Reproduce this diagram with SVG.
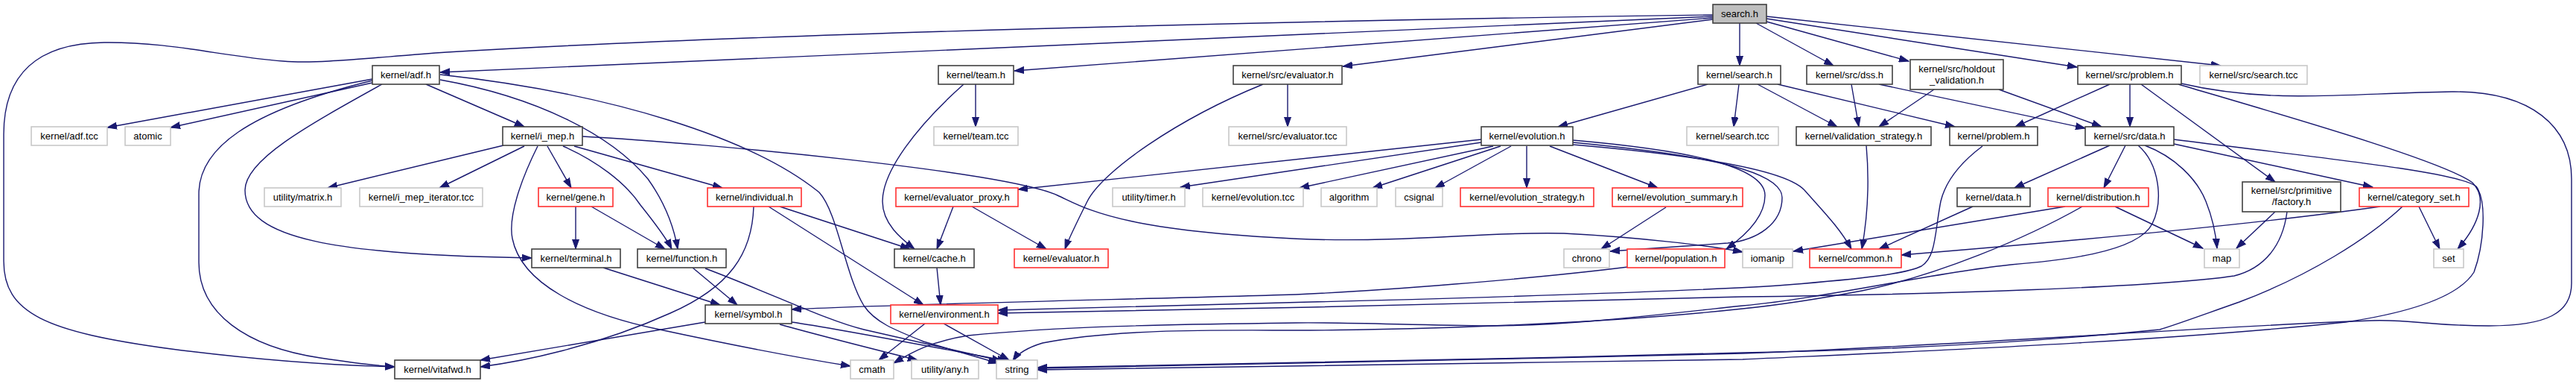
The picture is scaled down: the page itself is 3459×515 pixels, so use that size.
<svg xmlns="http://www.w3.org/2000/svg" width="3459" height="515" viewBox="0 0 3459 515">
<style>
.b rect{fill:#fff;stroke:#404040;stroke-width:1.6}
.g rect{fill:#fff;stroke:#c8c8c8;stroke-width:1.6}
.r rect{fill:#fff;stroke:#ff3030;stroke-width:1.6}
.c rect{fill:#bfbfbf;stroke:#404040;stroke-width:1.6}
text{font-family:"Liberation Sans",Arial,sans-serif;font-size:13px;fill:#000;text-anchor:middle}
#edges path{fill:none;stroke:#191970;stroke-width:1.4;marker-end:url(#ah)}
</style>
<defs>
<marker id="ah" markerUnits="userSpaceOnUse" markerWidth="14" markerHeight="10" refX="13" refY="5" orient="auto" viewBox="0 0 14 10"><path d="M0,0.5 L13,5 L0,9.5 z" fill="#191970" stroke="#191970" stroke-width="1"/></marker>
</defs>
<rect width="3459" height="515" fill="#fff"/>
<g id="edges">
<path d="M2300,20 C1700,28 1000,46 600,70 C500,77 430,86 380,82 C300,76 230,56 140,57 C50,58 5,100 5,180 L5,350 C5,420 60,445 230,468 C340,482 450,490 530,492"/>
<path d="M2300,22 L591,97"/>
<path d="M2300,24 L1362,95"/>
<path d="M2300,26 L1803,89"/>
<path d="M2336,31 L2336,88"/>
<path d="M2358,31 L2462,88"/>
<path d="M2372,29 L2563,82"/>
<path d="M2372,25 L2789,90"/>
<path d="M2372,22 L2982,88"/>
<path d="M500,106 L144,171"/>
<path d="M500,111 L229,171"/>
<path d="M500,108 C330,150 267,200 267,260 L267,352 C267,420 330,465 430,480 C470,486 500,490 530,492"/>
<path d="M513,113 C410,170 329,215 329,255 C329,320 450,342 714,346"/>
<path d="M572,113 L704,170"/>
<path d="M591,107 C720,130 820,180 870,240 C895,275 905,305 910,334"/>
<path d="M591,100 C820,125 1010,185 1100,258 C1125,285 1135,370 1160,410 C1175,432 1200,442 1240,458 L1340,487"/>
<path d="M676,195 L440,252"/>
<path d="M704,196 L590,252"/>
<path d="M722,196 C700,240 682,290 688,320 C700,380 780,420 886,442 C970,460 1060,478 1142,491"/>
<path d="M735,196 L767,252"/>
<path d="M756,196 C800,215 840,245 860,275 C880,300 895,320 902,334"/>
<path d="M771,196 L970,252"/>
<path d="M782,183 C950,192 1350,230 1420,262 C1460,280 1500,310 1760,321 C1900,325 2000,310 2100,313 C2200,318 2300,330 2340,338"/>
<path d="M773,277 L773,334"/>
<path d="M794,277 L893,334"/>
<path d="M1012,277 C1010,340 980,385 900,420 C800,465 700,485 645,492"/>
<path d="M1047,277 L1222,334"/>
<path d="M1032,277 L1240,409"/>
<path d="M810,359 L967,409"/>
<path d="M930,359 L990,409"/>
<path d="M947,360 C1040,395 1110,430 1160,442 L1345,484"/>
<path d="M947,432 L645,483"/>
<path d="M1063,432 C1120,440 1250,465 1352,484"/>
<path d="M1047,435 C1100,450 1180,470 1232,483"/>
<path d="M1242,434 L1180,483"/>
<path d="M1267,434 L1355,483"/>
<path d="M1258,359 L1263,409"/>
<path d="M1280,277 L1258,334"/>
<path d="M1305,277 L1405,334"/>
<path d="M1310,113 L1310,170"/>
<path d="M1294,113 C1230,170 1185,230 1185,270 C1185,300 1210,320 1228,334"/>
<path d="M1729,113 L1729,170"/>
<path d="M1696,113 C1580,160 1480,230 1460,270 C1445,300 1435,320 1430,334"/>
<path d="M1989,187 L1367,254"/>
<path d="M1989,191 L1585,251"/>
<path d="M2005,196 L1745,252"/>
<path d="M2015,196 L1843,252"/>
<path d="M2029,196 L1927,252"/>
<path d="M2050,196 L2050,252"/>
<path d="M2081,196 L2226,252"/>
<path d="M2112,188 C2250,200 2370,220 2370,262 C2370,290 2345,315 2318,334"/>
<path d="M2112,191 C2260,205 2393,225 2393,265 C2393,300 2360,322 2320,326 C2260,330 2200,334 2162,337"/>
<path d="M2112,194 C2300,210 2400,230 2423,255 C2445,280 2470,305 2486,334"/>
<path d="M2237,278 L2150,334"/>
<path d="M2293,113 L2092,170"/>
<path d="M2335,113 L2328,170"/>
<path d="M2360,113 L2467,170"/>
<path d="M2387,113 L2625,170"/>
<path d="M2486,113 L2496,170"/>
<path d="M2523,113 L2800,172"/>
<path d="M2597,120 L2523,170"/>
<path d="M2684,120 L2822,170"/>
<path d="M2833,113 L2706,170"/>
<path d="M2860,113 L2860,170"/>
<path d="M2875,113 L3055,244"/>
<path d="M2925,113 C3050,150 3280,215 3320,245 C3340,265 3330,300 3300,334"/>
<path d="M2929,112 C3050,140 3150,125 3292,123 C3400,122 3453,170 3453,240 L3453,380 C3453,420 3420,437 3342,437 C3260,437 3240,428 3183,430 C3000,436 2600,465 2340,474 C2000,482 1600,492 1393,494"/>
<path d="M2833,195 L2705,252"/>
<path d="M2854,195 L2825,252"/>
<path d="M2919,193 L3186,251"/>
<path d="M2880,195 C2920,210 2950,240 2962,270 C2970,290 2975,310 2977,333"/>
<path d="M2919,187 C3100,210 3300,230 3325,250 C3340,270 3335,330 3322,365 C3300,400 3230,420 3150,432 C2900,458 2600,470 2340,482 C2000,487 1600,493 1393,496"/>
<path d="M2871,195 C2900,220 2905,270 2890,300 C2870,340 2760,350 2700,355 C2600,365 2450,400 2340,410 C2200,425 2100,437 2000,437 C1900,436 1800,432 1740,433 C1600,435 1440,436 1300,450 C1250,458 1225,472 1200,487"/>
<path d="M2773,277 L2408,337"/>
<path d="M2840,277 L2958,333"/>
<path d="M2796,277 C2720,320 2600,370 2500,390 C2420,405 2380,410 2340,414 C2100,440 1800,443 1740,443 C1650,443 1500,440 1400,460 C1380,466 1366,475 1360,484"/>
<path d="M2649,277 L2523,334"/>
<path d="M2506,195 C2510,240 2508,290 2500,334"/>
<path d="M3196,277 C3000,305 2700,330 2553,342"/>
<path d="M3248,277 L3276,334"/>
<path d="M3226,277 C3180,320 3100,370 3007,405 C2950,425 2920,436 2900,442 C2700,462 2500,470 2340,473 C2000,482 1600,491 1393,493"/>
<path d="M3055,284 L3003,333"/>
<path d="M3071,284 C3065,330 3040,360 3000,370 C2900,385 2600,395 2340,398 C2100,402 1900,410 1760,412 C1600,416 1450,418 1340,420"/>
<path d="M2662,196 C2630,220 2612,245 2606,270 C2598,310 2600,345 2580,357 C2560,367 2500,374 2400,382 C2300,390 1900,402 1760,405 C1600,410 1450,414 1340,416"/>
<path d="M2186,358 C2050,375 1850,390 1740,395 C1500,402 1200,408 1063,415"/>
</g>
<g id="n_search_h" class="c"><rect x="2300" y="6" width="72" height="25"/><text x="2336" y="23">search.h</text></g>
<g id="n_adf_h" class="b"><rect x="500" y="88" width="90" height="25"/><text x="545" y="105">kernel/adf.h</text></g>
<g id="n_team_h" class="b"><rect x="1260" y="88" width="101" height="25"/><text x="1310.5" y="105">kernel/team.h</text></g>
<g id="n_src_evaluator_h" class="b"><rect x="1656" y="88" width="146" height="25"/><text x="1729" y="105">kernel/src/evaluator.h</text></g>
<g id="n_kernel_search_h" class="b"><rect x="2280" y="88" width="111" height="25"/><text x="2335.5" y="105">kernel/search.h</text></g>
<g id="n_src_dss_h" class="b"><rect x="2426" y="88" width="115" height="25"/><text x="2483.5" y="105">kernel/src/dss.h</text></g>
<g id="n_holdout" class="b"><rect x="2565" y="80" width="125" height="40"/><text x="2627.5" y="97">kernel/src/holdout</text><text x="2627.5" y="112">_validation.h</text></g>
<g id="n_src_problem_h" class="b"><rect x="2790" y="88" width="139" height="25"/><text x="2859.5" y="105">kernel/src/problem.h</text></g>
<g id="n_src_search_tcc" class="g"><rect x="2954" y="88" width="144" height="25"/><text x="3026" y="105">kernel/src/search.tcc</text></g>
<g id="n_adf_tcc" class="g"><rect x="42" y="170" width="102" height="25"/><text x="93" y="187">kernel/adf.tcc</text></g>
<g id="n_atomic" class="g"><rect x="168" y="170" width="61" height="25"/><text x="198.5" y="187">atomic</text></g>
<g id="n_i_mep_h" class="b"><rect x="675" y="170" width="107" height="25"/><text x="728.5" y="187">kernel/i_mep.h</text></g>
<g id="n_team_tcc" class="g"><rect x="1254" y="170" width="113" height="25"/><text x="1310.5" y="187">kernel/team.tcc</text></g>
<g id="n_src_evaluator_tcc" class="g"><rect x="1650" y="170" width="158" height="25"/><text x="1729" y="187">kernel/src/evaluator.tcc</text></g>
<g id="n_evolution_h" class="b"><rect x="1989" y="170" width="123" height="25"/><text x="2050.5" y="187">kernel/evolution.h</text></g>
<g id="n_search_tcc" class="g"><rect x="2265" y="170" width="123" height="25"/><text x="2326.5" y="187">kernel/search.tcc</text></g>
<g id="n_validation_strategy_h" class="b"><rect x="2412" y="170" width="181" height="25"/><text x="2502.5" y="187">kernel/validation_strategy.h</text></g>
<g id="n_problem_h" class="b"><rect x="2618" y="170" width="118" height="25"/><text x="2677" y="187">kernel/problem.h</text></g>
<g id="n_src_data_h" class="b"><rect x="2800" y="170" width="119" height="25"/><text x="2859.5" y="187">kernel/src/data.h</text></g>
<g id="n_matrix_h" class="g"><rect x="355" y="252" width="103" height="25"/><text x="406.5" y="269">utility/matrix.h</text></g>
<g id="n_i_mep_iterator_tcc" class="g"><rect x="483" y="252" width="165" height="25"/><text x="565.5" y="269">kernel/i_mep_iterator.tcc</text></g>
<g id="n_gene_h" class="r"><rect x="723" y="252" width="100" height="25"/><text x="773" y="269">kernel/gene.h</text></g>
<g id="n_individual_h" class="r"><rect x="950" y="252" width="126" height="25"/><text x="1013" y="269">kernel/individual.h</text></g>
<g id="n_evaluator_proxy_h" class="r"><rect x="1203" y="252" width="164" height="25"/><text x="1285" y="269">kernel/evaluator_proxy.h</text></g>
<g id="n_timer_h" class="g"><rect x="1494" y="252" width="97" height="25"/><text x="1542.5" y="269">utility/timer.h</text></g>
<g id="n_evolution_tcc" class="g"><rect x="1615" y="252" width="135" height="25"/><text x="1682.5" y="269">kernel/evolution.tcc</text></g>
<g id="n_algorithm" class="g"><rect x="1774" y="252" width="75" height="25"/><text x="1811.5" y="269">algorithm</text></g>
<g id="n_csignal" class="g"><rect x="1874" y="252" width="63" height="25"/><text x="1905.5" y="269">csignal</text></g>
<g id="n_evolution_strategy_h" class="r"><rect x="1961" y="252" width="179" height="25"/><text x="2050.5" y="269">kernel/evolution_strategy.h</text></g>
<g id="n_evolution_summary_h" class="r"><rect x="2165" y="252" width="175" height="25"/><text x="2252.5" y="269">kernel/evolution_summary.h</text></g>
<g id="n_data_h" class="b"><rect x="2628" y="252" width="98" height="25"/><text x="2677" y="269">kernel/data.h</text></g>
<g id="n_distribution_h" class="r"><rect x="2750" y="252" width="135" height="25"/><text x="2817.5" y="269">kernel/distribution.h</text></g>
<g id="n_factory_h" class="b"><rect x="3011" y="244" width="132" height="40"/><text x="3077" y="260">kernel/src/primitive</text><text x="3077" y="275">/factory.h</text></g>
<g id="n_category_set_h" class="r"><rect x="3168" y="252" width="147" height="25"/><text x="3241.5" y="269">kernel/category_set.h</text></g>
<g id="n_terminal_h" class="b"><rect x="714" y="334" width="119" height="25"/><text x="773.5" y="351">kernel/terminal.h</text></g>
<g id="n_function_h" class="b"><rect x="856" y="334" width="119" height="25"/><text x="915.5" y="351">kernel/function.h</text></g>
<g id="n_cache_h" class="b"><rect x="1201" y="334" width="107" height="25"/><text x="1254.5" y="351">kernel/cache.h</text></g>
<g id="n_evaluator_h" class="r"><rect x="1362" y="334" width="126" height="25"/><text x="1425" y="351">kernel/evaluator.h</text></g>
<g id="n_chrono" class="g"><rect x="2100" y="334" width="61" height="25"/><text x="2130.5" y="351">chrono</text></g>
<g id="n_population_h" class="r"><rect x="2185" y="334" width="131" height="25"/><text x="2250.5" y="351">kernel/population.h</text></g>
<g id="n_iomanip" class="g"><rect x="2340" y="334" width="67" height="25"/><text x="2373.5" y="351">iomanip</text></g>
<g id="n_common_h" class="r"><rect x="2430" y="334" width="123" height="25"/><text x="2491.5" y="351">kernel/common.h</text></g>
<g id="n_map" class="g"><rect x="2960" y="334" width="47" height="25"/><text x="2983.5" y="351">map</text></g>
<g id="n_set" class="g"><rect x="3268" y="334" width="40" height="25"/><text x="3288" y="351">set</text></g>
<g id="n_symbol_h" class="b"><rect x="947" y="409" width="116" height="25"/><text x="1005" y="426">kernel/symbol.h</text></g>
<g id="n_environment_h" class="r"><rect x="1196" y="409" width="144" height="25"/><text x="1268" y="426">kernel/environment.h</text></g>
<g id="n_vitafwd_h" class="b"><rect x="530" y="483" width="115" height="25"/><text x="587.5" y="500">kernel/vitafwd.h</text></g>
<g id="n_cmath" class="g"><rect x="1142" y="483" width="58" height="25"/><text x="1171" y="500">cmath</text></g>
<g id="n_any_h" class="g"><rect x="1224" y="483" width="90" height="25"/><text x="1269" y="500">utility/any.h</text></g>
<g id="n_string" class="g"><rect x="1338" y="483" width="55" height="25"/><text x="1365.5" y="500">string</text></g>
</svg>
